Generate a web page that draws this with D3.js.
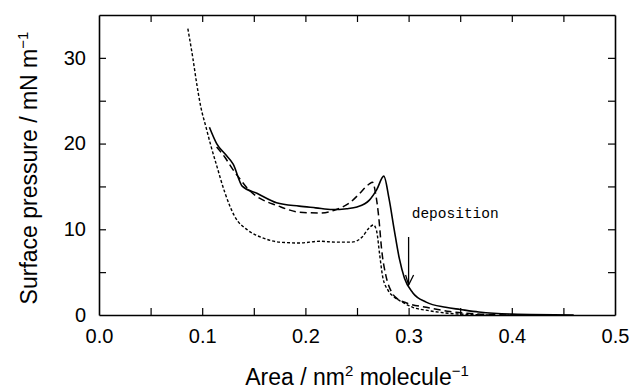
<!DOCTYPE html>
<html>
<head>
<meta charset="utf-8">
<script src="https://cdn.jsdelivr.net/npm/d3@7/dist/d3.min.js"></script>
<style>
  html, body { margin: 0; padding: 0; background: #fff; }
  svg { display: block; }
</style>
</head>
<body>
<svg id="chart" width="632" height="389"></svg>
<script>
// ---- data ----
const solidX = [0.107, 0.114, 0.122, 0.130, 0.139, 0.153, 0.172, 0.194, 0.210, 0.226, 0.240, 0.250, 0.262, 0.269, 0.276, 0.281, 0.286, 0.291, 0.296, 0.304, 0.317, 0.336, 0.350, 0.368, 0.400, 0.460];
const solidY = [21.9, 20.0, 18.8, 17.6, 15.0, 14.2, 13.1, 12.7, 12.5, 12.3, 12.4, 12.6, 13.4, 14.6, 16.2, 13.6, 10.0, 6.6, 4.3, 2.6, 1.5, 0.9, 0.65, 0.35, 0.1, 0.0];

const dashedX = [0.114, 0.122, 0.129, 0.137, 0.146, 0.156, 0.172, 0.194, 0.214, 0.230, 0.243, 0.252, 0.262, 0.265, 0.268, 0.271, 0.274, 0.278, 0.283, 0.288, 0.298, 0.317, 0.340, 0.370, 0.400];
const dashedY = [19.6, 18.4, 17.1, 15.8, 14.5, 13.6, 12.8, 12.0, 11.9, 12.3, 13.1, 14.1, 15.3, 15.5, 14.2, 11.5, 7.5, 4.6, 2.8, 2.0, 1.4, 0.9, 0.4, 0.1, 0.0];

const dottedX = [0.0861, 0.0909, 0.0948, 0.0986, 0.1035, 0.1083, 0.1141, 0.1219, 0.1315, 0.1441, 0.1586, 0.175, 0.194, 0.214, 0.230, 0.245, 0.255, 0.262, 0.266, 0.269, 0.272, 0.275, 0.280, 0.286, 0.294, 0.304, 0.320, 0.350, 0.380];
const dottedY = [33.4, 30.0, 26.9, 24.3, 22.0, 19.8, 17.4, 14.3, 11.5, 9.9, 9.0, 8.5, 8.4, 8.6, 8.5, 8.5, 9.1, 10.2, 10.5, 9.8, 7.0, 4.4, 2.9, 2.1, 1.5, 0.9, 0.5, 0.1, 0.0];

const xTickValues = [0.0, 0.05, 0.1, 0.15, 0.2, 0.25, 0.3, 0.35, 0.4, 0.45, 0.5];
const xTickLabels = ["0.0", "", "0.1", "", "0.2", "", "0.3", "", "0.4", "", "0.5"];
const yTickValues = [0, 5, 10, 15, 20, 25, 30];
const yTickLabels = ["0", "", "10", "", "20", "", "30"];

const annotationText = "deposition";
const arrowX = 0.3, arrowTopY = 9.1, arrowBottomY = 3.5;
const textX = 0.303, textY = 11.3;

// ---- layout ----
const svg = d3.select("#chart");
const mLeft = 99, mRight = 615, mTop = 15, mBottom = 315;
const x = d3.scaleLinear().domain([0, 0.5]).range([mLeft, mRight]);
const y = d3.scaleLinear().domain([0, 35]).range([mBottom, mTop]);

const font = "'Liberation Sans', Arial, sans-serif";

// axes
const fmtX = (d, i) => xTickLabels[i];
const fmtY = (d, i) => yTickLabels[i];

const gB = svg.append("g").attr("transform", `translate(0,${mBottom})`)
  .call(d3.axisBottom(x).tickValues(xTickValues).tickFormat(fmtX).tickSizeInner(-7).tickSizeOuter(0).tickPadding(14));
const gT = svg.append("g").attr("transform", `translate(0,${mTop})`)
  .call(d3.axisTop(x).tickValues(xTickValues).tickFormat(() => "").tickSizeInner(-7).tickSizeOuter(0));
const gL = svg.append("g").attr("transform", `translate(${mLeft},0)`)
  .call(d3.axisLeft(y).tickValues(yTickValues).tickFormat(fmtY).tickSizeInner(-7).tickSizeOuter(0).tickPadding(13));
const gR = svg.append("g").attr("transform", `translate(${mRight},0)`)
  .call(d3.axisRight(y).tickValues(yTickValues).tickFormat(() => "").tickSizeInner(-7).tickSizeOuter(0));

[gB, gT, gL, gR].forEach(g => {
  g.select(".domain").attr("stroke", "#000").attr("stroke-width", 1.6);
  g.selectAll(".tick line").attr("stroke", "#000").attr("stroke-width", 1.2);
  g.selectAll("text").attr("font-family", font).attr("font-size", 20).attr("fill", "#000");
});
gT.selectAll(".tick").filter(d => d === 0 || d === 0.5).remove();
gB.selectAll(".tick line").filter(d => d === 0 || d === 0.5).remove();
gR.selectAll(".tick").filter(d => d === 0).remove();
gL.selectAll(".tick line").filter(d => d === 0).remove();

// curves
const line = d3.line().x(d => x(d[0])).y(d => y(d[1])).curve(d3.curveMonotoneX);
const series = [
  { xs: solidX, ys: solidY, dash: null, w: 1.6 },
  { xs: dashedX, ys: dashedY, dash: "7,4", w: 1.5 },
  { xs: dottedX, ys: dottedY, dash: "3,2", w: 1.4 }
];
series.forEach(s => {
  const pts = s.xs.map((v, i) => [v, s.ys[i]]);
  svg.append("path").datum(pts)
    .attr("d", line)
    .attr("fill", "none")
    .attr("stroke", "#000")
    .attr("stroke-width", s.w)
    .attr("stroke-dasharray", s.dash)
    .attr("stroke-linejoin", "round");
});

// annotation
svg.append("text")
  .attr("x", x(textX)).attr("y", y(textY))
  .attr("font-family", "'Liberation Mono', 'DejaVu Sans Mono', monospace")
  .attr("font-size", 14.5)
  .attr("fill", "#000")
  .text(annotationText);

const ax = x(arrowX), ay1 = y(arrowTopY), ay2 = y(arrowBottomY);
svg.append("line").attr("x1", ax).attr("x2", ax).attr("y1", ay1).attr("y2", ay2)
  .attr("stroke", "#000").attr("stroke-width", 1.3);
svg.append("path")
  .attr("d", `M${ax - 3},${ay2 - 10} L${ax},${ay2} L${ax + 5},${ay2 - 10}`)
  .attr("fill", "none").attr("stroke", "#000").attr("stroke-width", 1.3);

// axis titles
const xt = svg.append("text")
  .attr("x", (mLeft + mRight) / 2).attr("y", 385)
  .attr("text-anchor", "middle")
  .attr("font-family", font).attr("font-size", 23).attr("fill", "#000");
xt.append("tspan").text("Area / nm");
xt.append("tspan").attr("font-size", 15).attr("dy", -9).text("2");
xt.append("tspan").attr("dy", 9).text(" molecule");
xt.append("tspan").attr("font-size", 15).attr("dy", -9).text("\u22121");

const yt = svg.append("text")
  .attr("transform", `translate(37,${(mTop + mBottom) / 2 + 3}) rotate(-90)`)
  .attr("text-anchor", "middle")
  .attr("font-family", font).attr("font-size", 23).attr("fill", "#000");
yt.append("tspan").text("Surface pressure / mN m");
yt.append("tspan").attr("font-size", 15).attr("dy", -9).text("\u22121");
</script>
</body>
</html>
